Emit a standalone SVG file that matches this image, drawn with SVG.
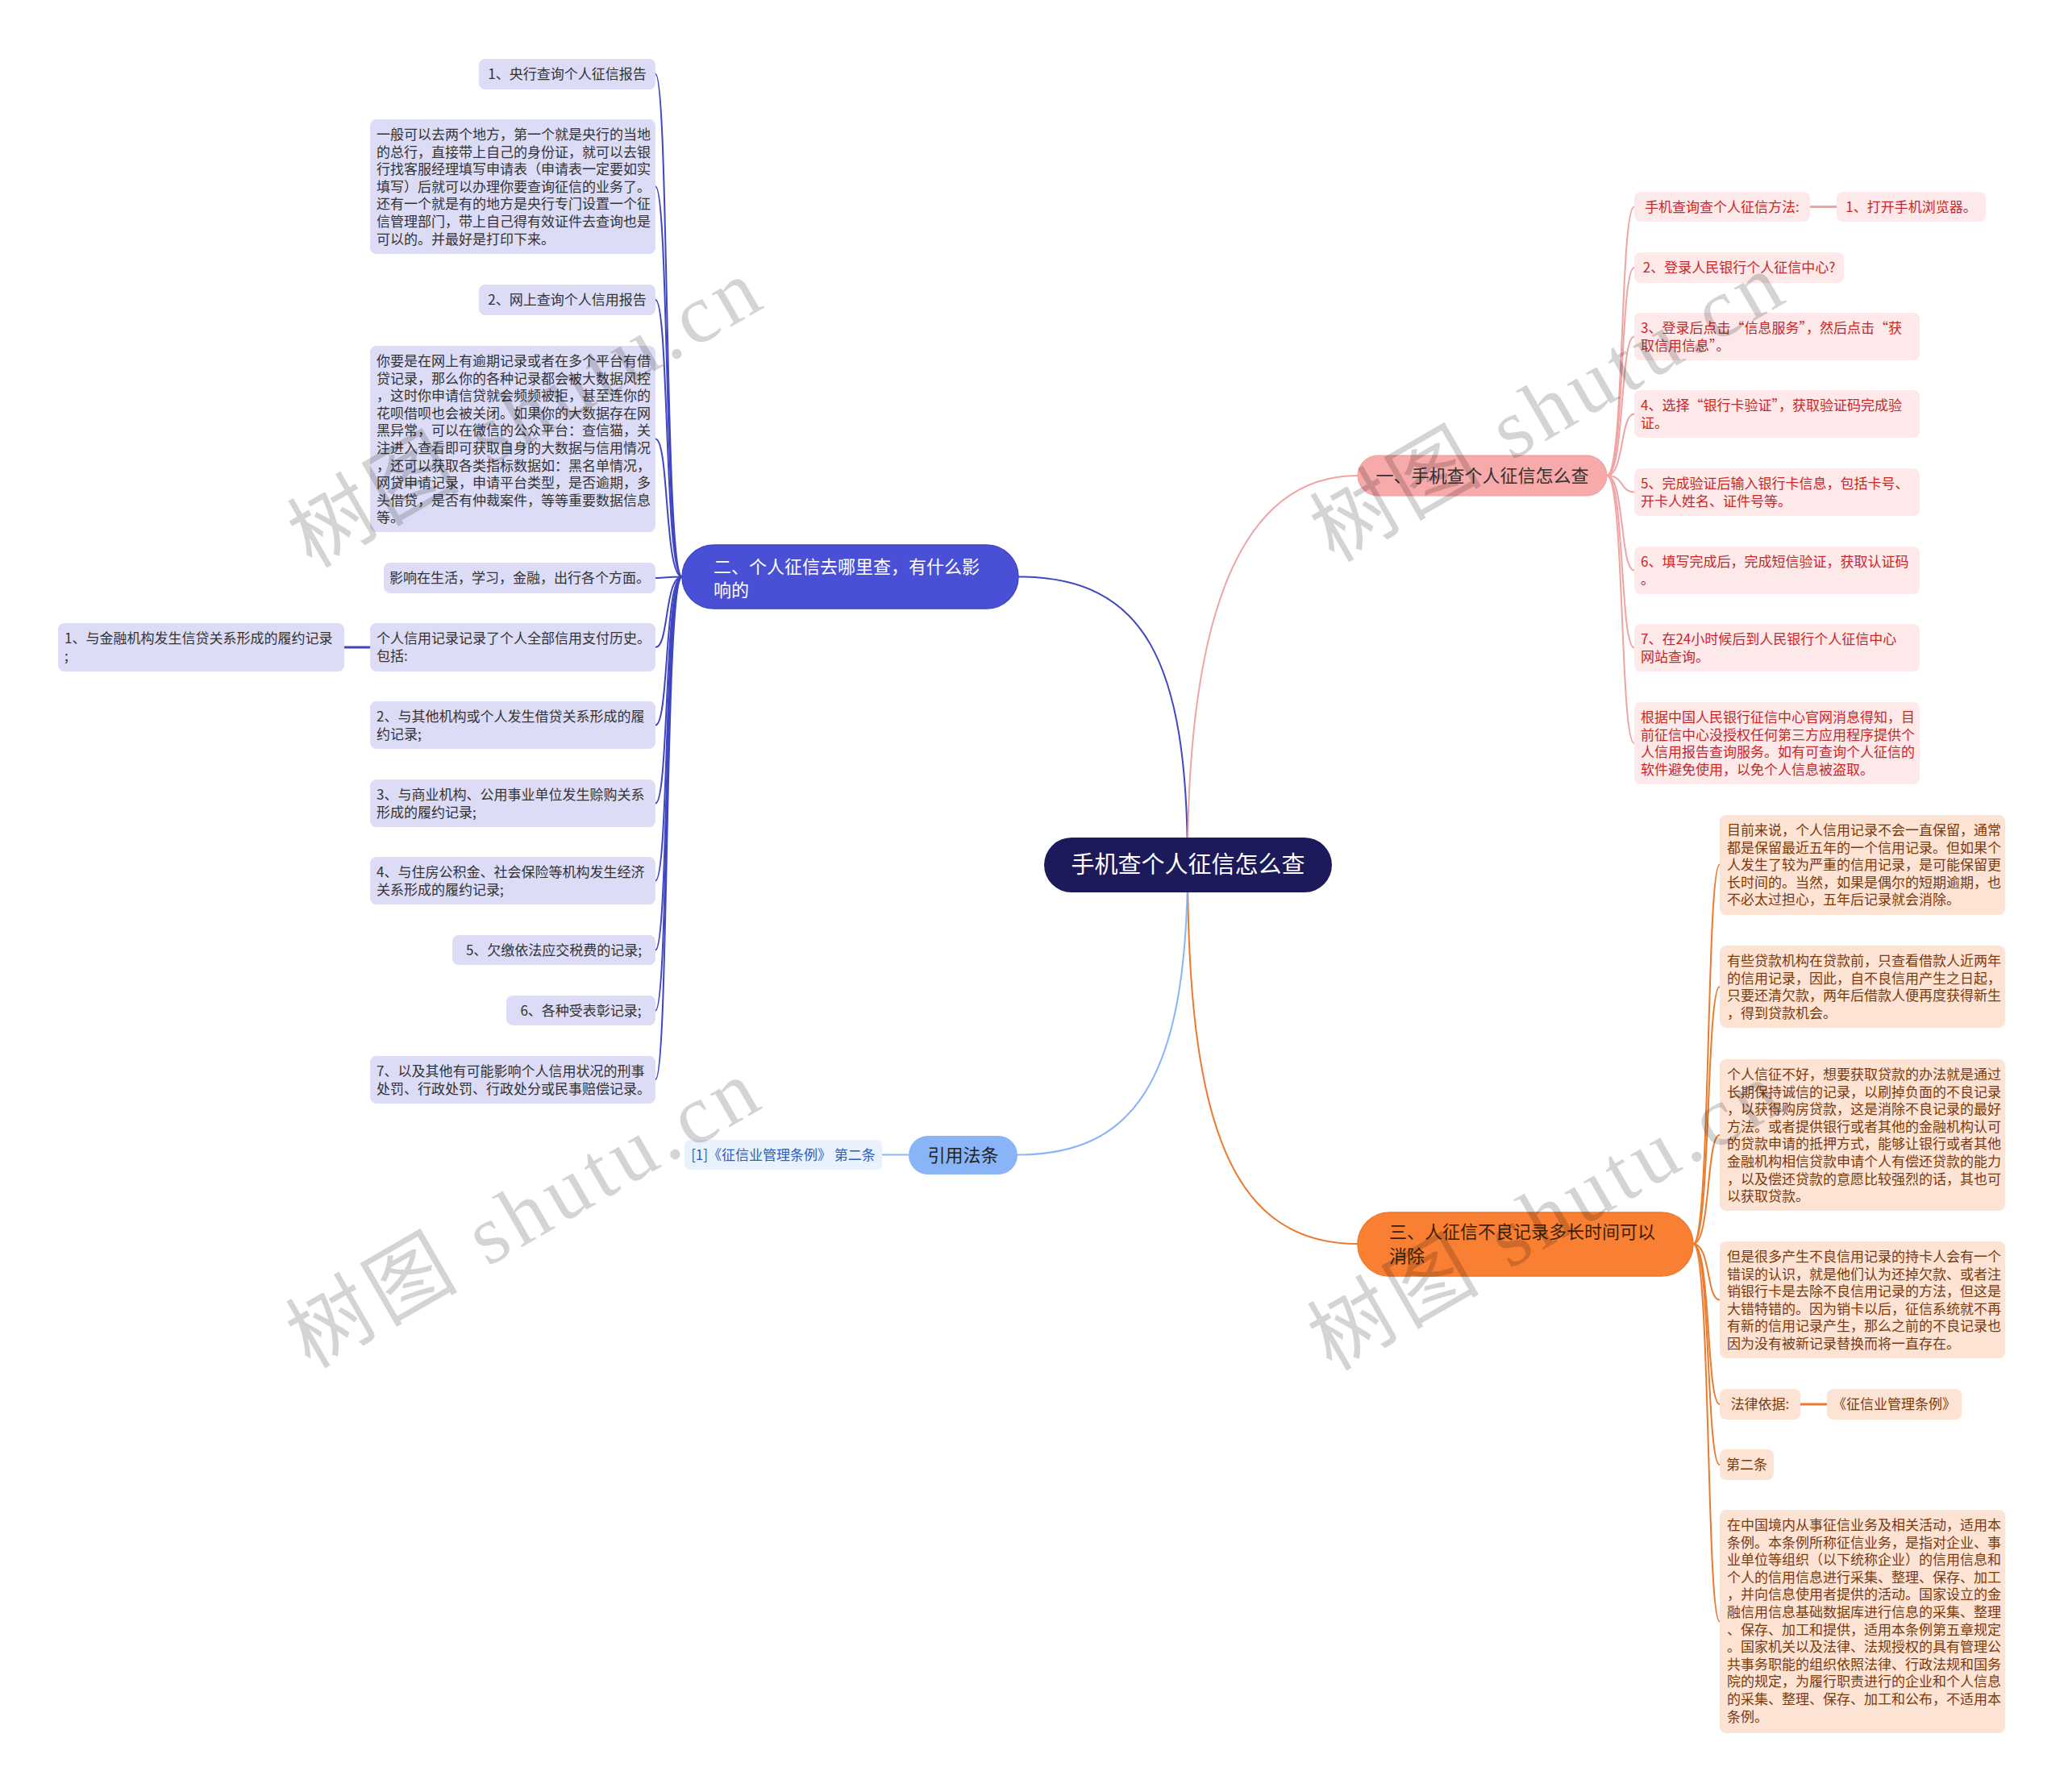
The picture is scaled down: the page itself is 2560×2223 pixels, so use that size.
<svg xmlns="http://www.w3.org/2000/svg" width="2560" height="2223" viewBox="0 0 2560 2223">
<style>
text { font-family: 'Noto Sans CJK SC', 'Noto Sans', sans-serif; }
.lav { fill: #dcdcf7; }
.lavt { fill: #333333; font-size: 17px; }
.pk { fill: #fde9e9; }
.pkt { fill: #c62828; font-size: 17px; }
.pc { fill: #fde3d3; }
.pct { fill: #7a3a10; font-size: 17px; }
.c-blue { fill: none; stroke: #3f46c0; stroke-width: 2; }
.c-pink { fill: none; stroke: #f0a3a3; stroke-width: 2; }
.c-orange { fill: none; stroke: #eb7a2e; stroke-width: 2; }
.c-lb { fill: none; stroke: #8ab4f8; stroke-width: 2; }
.mid { text-anchor: middle; }
.wm { font-family: 'Liberation Serif', 'Noto Sans CJK SC', serif; font-size: 104px; fill: #000000; fill-opacity: 0.17; }
</style>
<rect x="0" y="0" width="2560" height="2223" fill="#ffffff"/>

<g id="connectors">
  <path class="c-blue" d="M1473,1073 C1473,820 1420,715.5 1263,715.5"/>
  <path class="c-pink" d="M1473,1073 C1473,760 1540,590 1684,590"/>
  <path class="c-orange" d="M1473,1073 C1473,1400 1530,1543 1684,1543"/>
  <path class="c-lb" d="M1473,1073 C1473,1350 1400,1432.5 1262,1432.5"/>
  <line class="c-lb" x1="1094" y1="1432.5" x2="1127" y2="1432.5"/>
  <path class="c-blue" d="M846,715.5 C824,715.5 830,92 813,92"/>
  <path class="c-blue" d="M846,715.5 C824,715.5 830,231.5 813,231.5"/>
  <path class="c-blue" d="M846,715.5 C824,715.5 830,372 813,372"/>
  <path class="c-blue" d="M846,715.5 C824,715.5 830,544.5 813,544.5"/>
  <path class="c-blue" d="M846,715.5 C824,715.5 830,717 813,717"/>
  <path class="c-blue" d="M846,715.5 C824,715.5 830,803 813,803"/>
  <path class="c-blue" d="M846,715.5 C824,715.5 830,899.5 813,899.5"/>
  <path class="c-blue" d="M846,715.5 C824,715.5 830,996.5 813,996.5"/>
  <path class="c-blue" d="M846,715.5 C824,715.5 830,1092.5 813,1092.5"/>
  <path class="c-blue" d="M846,715.5 C824,715.5 830,1178.5 813,1178.5"/>
  <path class="c-blue" d="M846,715.5 C824,715.5 830,1253.5 813,1253.5"/>
  <path class="c-blue" d="M846,715.5 C824,715.5 830,1339 813,1339"/>
  <line class="c-blue" x1="427" y1="803" x2="459" y2="803" style="stroke-width:3"/>
  <path class="c-pink" d="M1993,590 C2015,590 2009,256.5 2027,256.5"/>
  <path class="c-pink" d="M1993,590 C2015,590 2009,332 2027,332"/>
  <path class="c-pink" d="M1993,590 C2015,590 2009,417.5 2027,417.5"/>
  <path class="c-pink" d="M1993,590 C2015,590 2009,513.5 2027,513.5"/>
  <path class="c-pink" d="M1993,590 C2015,590 2009,610.5 2027,610.5"/>
  <path class="c-pink" d="M1993,590 C2015,590 2009,707.5 2027,707.5"/>
  <path class="c-pink" d="M1993,590 C2015,590 2009,803.5 2027,803.5"/>
  <path class="c-pink" d="M1993,590 C2015,590 2009,922 2027,922"/>
  <line class="c-pink" x1="2245" y1="256.5" x2="2278" y2="256.5" style="stroke-width:3"/>
  <path class="c-orange" d="M2100,1543 C2122,1543 2116,1072.5 2133,1072.5"/>
  <path class="c-orange" d="M2100,1543 C2122,1543 2116,1224 2133,1224"/>
  <path class="c-orange" d="M2100,1543 C2122,1543 2116,1408 2133,1408"/>
  <path class="c-orange" d="M2100,1543 C2122,1543 2116,1612.5 2133,1612.5"/>
  <path class="c-orange" d="M2100,1543 C2122,1543 2116,1742 2133,1742"/>
  <path class="c-orange" d="M2100,1543 C2122,1543 2116,1817 2133,1817"/>
  <path class="c-orange" d="M2100,1543 C2122,1543 2116,2011.5 2133,2011.5"/>
  <line class="c-orange" x1="2233" y1="1742" x2="2266" y2="1742" style="stroke-width:3"/>
</g>

<g id="root">
  <rect x="1295" y="1039" width="357" height="68" rx="34" fill="#1c1a5b"/>
  <text x="1473.5" y="1083" class="mid" style="font-size:29px;fill:#ffffff">手机查个人征信怎么查</text>
</g>

<g id="branch-1">
  <rect x="1684" y="565" width="309" height="50" rx="25" fill="#f8a9a9" stroke="#f09a9a" stroke-width="1"/>
  <text x="1838.5" y="598" class="mid" style="font-size:22px;fill:#333333">一、手机查个人征信怎么查</text>
</g>
<g id="branch-2">
  <rect x="846" y="676" width="417" height="79" rx="39.5" fill="#4a50d6" stroke="#3f46c0" stroke-width="1.5"/>
  <text x="885" y="711" style="font-size:22px;fill:#ffffff"><tspan x="885">二、个人征信去哪里查，有什么影</tspan><tspan x="885" dy="29">响的</tspan></text>
</g>
<g id="branch-3">
  <rect x="1684" y="1504" width="416" height="79" rx="39.5" fill="#f97f32" stroke="#eb7a2e" stroke-width="1.5"/>
  <text x="1723" y="1536" style="font-size:22px;fill:#3d1f0a"><tspan x="1723">三、人征信不良记录多长时间可以</tspan><tspan x="1723" dy="30">消除</tspan></text>
</g>
<g id="branch-ref">
  <rect x="1127" y="1409" width="135" height="48" rx="24" fill="#8ab4f8"/>
  <text x="1194.5" y="1440.5" class="mid" style="font-size:22px;fill:#222222">引用法条</text>
</g>
<g id="ref-1">
  <rect x="849" y="1414" width="245" height="37" rx="7" fill="#e9f1fd"/>
  <text x="971.5" y="1438.5" class="mid" style="font-size:17px;fill:#2b5fb4">[1]《征信业管理条例》 第二条</text>
</g>

<g id="l1">
  <rect class="lav" x="594" y="73" width="219" height="38" rx="8"/>
  <text class="lavt mid" x="703.5" y="98">1、央行查询个人征信报告</text>
</g>
<g id="l2">
  <rect class="lav" x="459" y="148" width="354" height="167" rx="8"/>
  <text class="lavt" x="467" y="173"><tspan x="467">一般可以去两个地方，第一个就是央行的当地</tspan><tspan x="467" dy="21.6">的总行，直接带上自己的身份证，就可以去银</tspan><tspan x="467" dy="21.6">行找客服经理填写申请表（申请表一定要如实</tspan><tspan x="467" dy="21.6">填写）后就可以办理你要查询征信的业务了。</tspan><tspan x="467" dy="21.6">还有一个就是有的地方是央行专门设置一个征</tspan><tspan x="467" dy="21.6">信管理部门，带上自己得有效证件去查询也是</tspan><tspan x="467" dy="21.6">可以的。并最好是打印下来。</tspan></text>
</g>
<g id="l3">
  <rect class="lav" x="594" y="353" width="219" height="38" rx="8"/>
  <text class="lavt mid" x="703.5" y="378">2、网上查询个人信用报告</text>
</g>
<g id="l4">
  <rect class="lav" x="459" y="429" width="354" height="231" rx="8"/>
  <text class="lavt" x="467" y="454"><tspan x="467">你要是在网上有逾期记录或者在多个平台有借</tspan><tspan x="467" dy="21.6">贷记录，那么你的各种记录都会被大数据风控</tspan><tspan x="467" dy="21.6">，这时你申请信贷就会频频被拒，甚至连你的</tspan><tspan x="467" dy="21.6">花呗借呗也会被关闭。如果你的大数据存在网</tspan><tspan x="467" dy="21.6">黑异常，可以在微信的公众平台：查信猫，关</tspan><tspan x="467" dy="21.6">注进入查看即可获取自身的大数据与信用情况</tspan><tspan x="467" dy="21.6">，还可以获取各类指标数据如：黑名单情况，</tspan><tspan x="467" dy="21.6">网贷申请记录，申请平台类型，是否逾期，多</tspan><tspan x="467" dy="21.6">头借贷，是否有仲裁案件，等等重要数据信息</tspan><tspan x="467" dy="21.6">等。</tspan></text>
</g>
<g id="l5">
  <rect class="lav" x="476" y="698" width="337" height="38" rx="8"/>
  <text class="lavt mid" x="644.5" y="723">影响在生活，学习，金融，出行各个方面。</text>
</g>
<g id="l6">
  <rect class="lav" x="459" y="773" width="354" height="60" rx="8"/>
  <text class="lavt" x="467" y="798"><tspan x="467">个人信用记录记录了个人全部信用支付历史。</tspan><tspan x="467" dy="21.6">包括:</tspan></text>
</g>
<g id="l6a">
  <rect class="lav" x="72" y="773" width="355" height="60" rx="8"/>
  <text class="lavt" x="80" y="798"><tspan x="80">1、与金融机构发生信贷关系形成的履约记录</tspan><tspan x="80" dy="21.6">;</tspan></text>
</g>
<g id="l7">
  <rect class="lav" x="459" y="870" width="354" height="59" rx="8"/>
  <text class="lavt" x="467" y="895"><tspan x="467">2、与其他机构或个人发生借贷关系形成的履</tspan><tspan x="467" dy="21.6">约记录;</tspan></text>
</g>
<g id="l8">
  <rect class="lav" x="459" y="967" width="354" height="59" rx="8"/>
  <text class="lavt" x="467" y="992"><tspan x="467">3、与商业机构、公用事业单位发生赊购关系</tspan><tspan x="467" dy="21.6">形成的履约记录;</tspan></text>
</g>
<g id="l9">
  <rect class="lav" x="459" y="1063" width="354" height="59" rx="8"/>
  <text class="lavt" x="467" y="1088"><tspan x="467">4、与住房公积金、社会保险等机构发生经济</tspan><tspan x="467" dy="21.6">关系形成的履约记录;</tspan></text>
</g>
<g id="l10">
  <rect class="lav" x="561" y="1160" width="252" height="37" rx="8"/>
  <text class="lavt mid" x="687" y="1185">5、欠缴依法应交税费的记录;</text>
</g>
<g id="l11">
  <rect class="lav" x="628" y="1235" width="185" height="37" rx="8"/>
  <text class="lavt mid" x="720.5" y="1260">6、各种受表彰记录;</text>
</g>
<g id="l12">
  <rect class="lav" x="459" y="1310" width="354" height="59" rx="8"/>
  <text class="lavt" x="467" y="1335"><tspan x="467">7、以及其他有可能影响个人信用状况的刑事</tspan><tspan x="467" dy="21.6">处罚、行政处罚、行政处分或民事赔偿记录。</tspan></text>
</g>

<g id="p1">
  <rect class="pk" x="2027" y="238" width="218" height="37" rx="8"/>
  <text class="pkt mid" x="2136" y="263">手机查询查个人征信方法:</text>
</g>
<g id="p1b">
  <rect class="pk" x="2278" y="238" width="185" height="37" rx="8"/>
  <text class="pkt mid" x="2370.5" y="263">1、打开手机浏览器。</text>
</g>
<g id="p2">
  <rect class="pk" x="2027" y="313" width="260" height="38" rx="8"/>
  <text class="pkt mid" x="2157" y="338">2、登录人民银行个人征信中心?</text>
</g>
<g id="p3">
  <rect class="pk" x="2027" y="388" width="354" height="59" rx="8"/>
  <text class="pkt" x="2035" y="413"><tspan x="2035">3、登录后点击“信息服务”，然后点击“获</tspan><tspan x="2035" dy="21.6">取信用信息”。</tspan></text>
</g>
<g id="p4">
  <rect class="pk" x="2027" y="484" width="354" height="59" rx="8"/>
  <text class="pkt" x="2035" y="509"><tspan x="2035">4、选择“银行卡验证”，获取验证码完成验</tspan><tspan x="2035" dy="21.6">证。</tspan></text>
</g>
<g id="p5">
  <rect class="pk" x="2027" y="581" width="354" height="59" rx="8"/>
  <text class="pkt" x="2035" y="606"><tspan x="2035">5、完成验证后输入银行卡信息，包括卡号、</tspan><tspan x="2035" dy="21.6">开卡人姓名、证件号等。</tspan></text>
</g>
<g id="p6">
  <rect class="pk" x="2027" y="678" width="354" height="59" rx="8"/>
  <text class="pkt" x="2035" y="703"><tspan x="2035">6、填写完成后，完成短信验证，获取认证码</tspan><tspan x="2035" dy="21.6">。</tspan></text>
</g>
<g id="p7">
  <rect class="pk" x="2027" y="774" width="354" height="59" rx="8"/>
  <text class="pkt" x="2035" y="799"><tspan x="2035">7、在24小时候后到人民银行个人征信中心</tspan><tspan x="2035" dy="21.6">网站查询。</tspan></text>
</g>
<g id="p8">
  <rect class="pk" x="2027" y="871" width="354" height="102" rx="8"/>
  <text class="pkt" x="2035" y="896"><tspan x="2035">根据中国人民银行征信中心官网消息得知，目</tspan><tspan x="2035" dy="21.6">前征信中心没授权任何第三方应用程序提供个</tspan><tspan x="2035" dy="21.6">人信用报告查询服务。如有可查询个人征信的</tspan><tspan x="2035" dy="21.6">软件避免使用，以免个人信息被盗取。</tspan></text>
</g>

<g id="o1">
  <rect class="pc" x="2133" y="1011" width="354" height="124" rx="8"/>
  <text class="pct" x="2142" y="1036"><tspan x="2142">目前来说，个人信用记录不会一直保留，通常</tspan><tspan x="2142" dy="21.6">都是保留最近五年的一个信用记录。但如果个</tspan><tspan x="2142" dy="21.6">人发生了较为严重的信用记录，是可能保留更</tspan><tspan x="2142" dy="21.6">长时间的。当然，如果是偶尔的短期逾期，也</tspan><tspan x="2142" dy="21.6">不必太过担心，五年后记录就会消除。</tspan></text>
</g>
<g id="o2">
  <rect class="pc" x="2133" y="1173" width="354" height="102" rx="8"/>
  <text class="pct" x="2142" y="1198"><tspan x="2142">有些贷款机构在贷款前，只查看借款人近两年</tspan><tspan x="2142" dy="21.6">的信用记录，因此，自不良信用产生之日起，</tspan><tspan x="2142" dy="21.6">只要还清欠款，两年后借款人便再度获得新生</tspan><tspan x="2142" dy="21.6">，得到贷款机会。</tspan></text>
</g>
<g id="o3">
  <rect class="pc" x="2133" y="1314" width="354" height="188" rx="8"/>
  <text class="pct" x="2142" y="1339"><tspan x="2142">个人信征不好，想要获取贷款的办法就是通过</tspan><tspan x="2142" dy="21.6">长期保持诚信的记录，以刷掉负面的不良记录</tspan><tspan x="2142" dy="21.6">，以获得购房贷款，这是消除不良记录的最好</tspan><tspan x="2142" dy="21.6">方法。或者提供银行或者其他的金融机构认可</tspan><tspan x="2142" dy="21.6">的贷款申请的抵押方式，能够让银行或者其他</tspan><tspan x="2142" dy="21.6">金融机构相信贷款申请个人有偿还贷款的能力</tspan><tspan x="2142" dy="21.6">，以及偿还贷款的意愿比较强烈的话，其也可</tspan><tspan x="2142" dy="21.6">以获取贷款。</tspan></text>
</g>
<g id="o4">
  <rect class="pc" x="2133" y="1540" width="354" height="145" rx="8"/>
  <text class="pct" x="2142" y="1565"><tspan x="2142">但是很多产生不良信用记录的持卡人会有一个</tspan><tspan x="2142" dy="21.6">错误的认识，就是他们认为还掉欠款、或者注</tspan><tspan x="2142" dy="21.6">销银行卡是去除不良信用记录的方法，但这是</tspan><tspan x="2142" dy="21.6">大错特错的。因为销卡以后，征信系统就不再</tspan><tspan x="2142" dy="21.6">有新的信用记录产生，那么之前的不良记录也</tspan><tspan x="2142" dy="21.6">因为没有被新记录替换而将一直存在。</tspan></text>
</g>
<g id="o5">
  <rect class="pc" x="2133" y="1723" width="100" height="38" rx="8"/>
  <text class="pct mid" x="2183" y="1748">法律依据:</text>
</g>
<g id="o5b">
  <rect class="pc" x="2266" y="1723" width="167" height="38" rx="8"/>
  <text class="pct mid" x="2349.5" y="1748">《征信业管理条例》</text>
</g>
<g id="o6">
  <rect class="pc" x="2133" y="1798" width="67" height="38" rx="8"/>
  <text class="pct mid" x="2166.5" y="1823">第二条</text>
</g>
<g id="o7">
  <rect class="pc" x="2133" y="1873" width="354" height="277" rx="8"/>
  <text class="pct" x="2142" y="1898"><tspan x="2142">在中国境内从事征信业务及相关活动，适用本</tspan><tspan x="2142" dy="21.6">条例。本条例所称征信业务，是指对企业、事</tspan><tspan x="2142" dy="21.6">业单位等组织（以下统称企业）的信用信息和</tspan><tspan x="2142" dy="21.6">个人的信用信息进行采集、整理、保存、加工</tspan><tspan x="2142" dy="21.6">，并向信息使用者提供的活动。国家设立的金</tspan><tspan x="2142" dy="21.6">融信用信息基础数据库进行信息的采集、整理</tspan><tspan x="2142" dy="21.6">、保存、加工和提供，适用本条例第五章规定</tspan><tspan x="2142" dy="21.6">。国家机关以及法律、法规授权的具有管理公</tspan><tspan x="2142" dy="21.6">共事务职能的组织依照法律、行政法规和国务</tspan><tspan x="2142" dy="21.6">院的规定，为履行职责进行的企业和个人信息</tspan><tspan x="2142" dy="21.6">的采集、整理、保存、加工和公布，不适用本</tspan><tspan x="2142" dy="21.6">条例。</tspan></text>
</g>

<g id="watermarks">
  <text class="wm mid" transform="translate(650,512) rotate(-30)" x="0" y="36" textLength="650" lengthAdjust="spacing">树图 shutu.cn</text>
  <text class="wm mid" transform="translate(1918,505) rotate(-30)" x="0" y="36" textLength="650" lengthAdjust="spacing">树图 shutu.cn</text>
  <text class="wm mid" transform="translate(648,1505) rotate(-30)" x="0" y="36" textLength="650" lengthAdjust="spacing">树图 shutu.cn</text>
  <text class="wm mid" transform="translate(1915,1508) rotate(-30)" x="0" y="36" textLength="650" lengthAdjust="spacing">树图 shutu.cn</text>
</g>
</svg>
